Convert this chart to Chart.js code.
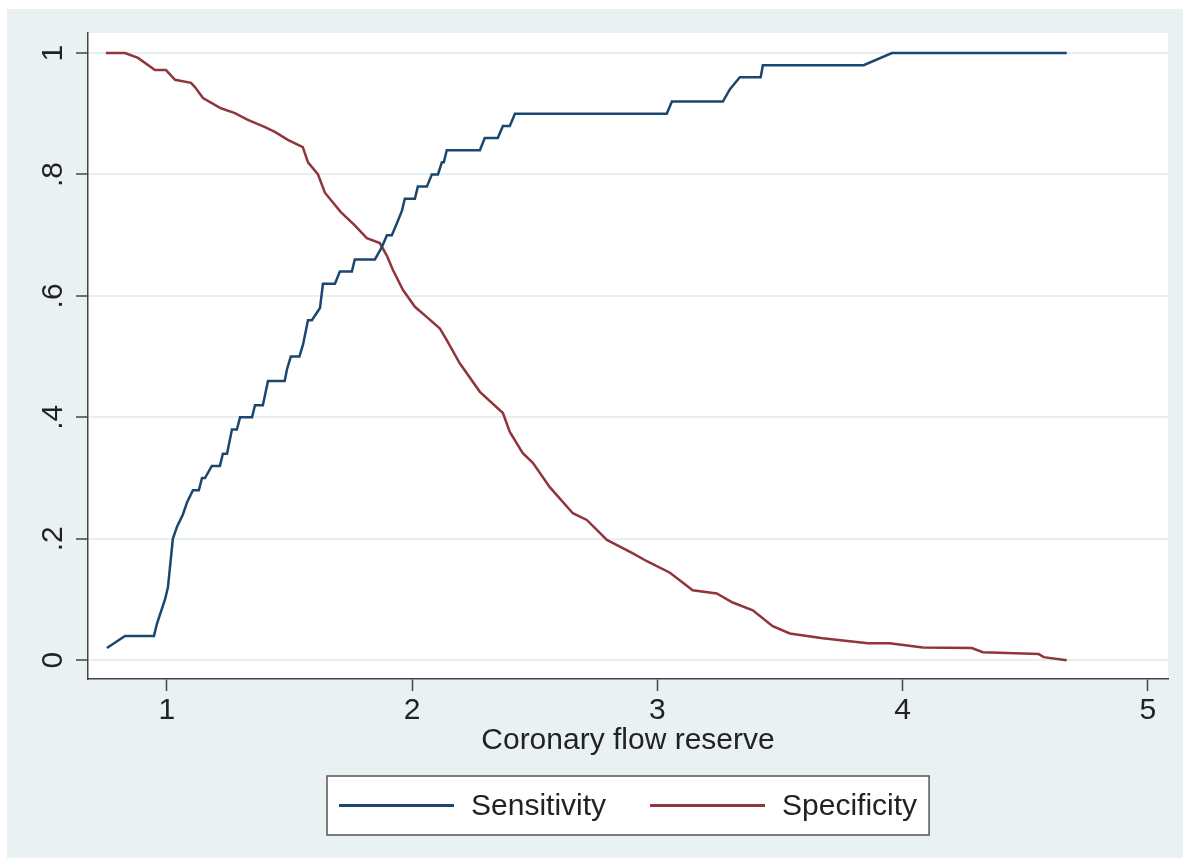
<!DOCTYPE html>
<html>
<head>
<meta charset="utf-8">
<script src="https://cdn.jsdelivr.net/npm/chart.js@4.4.1/dist/chart.umd.min.js"></script>
<style>
  html, body { margin: 0; padding: 0; background: #fff; }
  #wrap { width: 1183px; height: 858px; position: relative; }
</style>
</head>
<body>
<div id="wrap"><canvas id="rocChart"></canvas></div>
<script>
// sensitivity curve (cut-off, value)
const sensX = [0.755, 0.829, 0.947, 0.959, 0.992, 1.004, 1.024, 1.041, 1.065, 1.082, 1.106, 1.13, 1.143, 1.155, 1.183, 1.216, 1.228, 1.245, 1.265, 1.285, 1.298, 1.347, 1.359, 1.391, 1.412, 1.48, 1.49, 1.505, 1.54, 1.555, 1.575, 1.591, 1.624, 1.636, 1.685, 1.705, 1.754, 1.766, 1.848, 1.876, 1.897, 1.917, 1.938, 1.958, 1.97, 2.011, 2.023, 2.06, 2.08, 2.105, 2.121, 2.129, 2.141, 2.276, 2.296, 2.349, 2.37, 2.398, 2.419, 3.038, 3.059, 3.267, 3.295, 3.336, 3.421, 3.43, 3.841, 3.956, 4.669];
const sensY = [0.02, 0.04, 0.04, 0.06, 0.10, 0.12, 0.20, 0.22, 0.24, 0.26, 0.28, 0.28, 0.30, 0.30, 0.32, 0.32, 0.34, 0.34, 0.38, 0.38, 0.40, 0.40, 0.42, 0.42, 0.46, 0.46, 0.48, 0.50, 0.50, 0.52, 0.56, 0.56, 0.58, 0.62, 0.62, 0.64, 0.64, 0.66, 0.66, 0.68, 0.70, 0.70, 0.72, 0.74, 0.76, 0.76, 0.78, 0.78, 0.80, 0.80, 0.82, 0.82, 0.84, 0.84, 0.86, 0.86, 0.88, 0.88, 0.90, 0.90, 0.92, 0.92, 0.94, 0.96, 0.96, 0.98, 0.98, 1.0, 1.0];

// specificity curve
const specX = [0.751, 0.829, 0.882, 0.951, 0.996, 1.033, 1.098, 1.114, 1.147, 1.22, 1.277, 1.33, 1.4, 1.44, 1.493, 1.554, 1.575, 1.616, 1.644, 1.709, 1.766, 1.815, 1.868, 1.897, 1.921, 1.962, 2.011, 2.06, 2.113, 2.141, 2.194, 2.276, 2.37, 2.398, 2.451, 2.492, 2.561, 2.655, 2.712, 2.794, 2.9, 2.957, 3.051, 3.144, 3.242, 3.307, 3.389, 3.47, 3.54, 3.674, 3.858, 3.947, 4.082, 4.282, 4.327, 4.555, 4.575, 4.669];
const specY = [1.0, 1.0, 0.992, 0.972, 0.972, 0.956, 0.951, 0.944, 0.926, 0.909, 0.901, 0.89, 0.878, 0.87, 0.857, 0.845, 0.82, 0.80, 0.77, 0.738, 0.716, 0.695, 0.687, 0.666, 0.643, 0.61, 0.582, 0.565, 0.546, 0.527, 0.489, 0.442, 0.407, 0.376, 0.341, 0.325, 0.285, 0.242, 0.231, 0.198, 0.176, 0.163, 0.144, 0.115, 0.11, 0.095, 0.082, 0.056, 0.044, 0.036, 0.028, 0.028, 0.021, 0.02, 0.013, 0.01, 0.005, 0.0];

const seriesNames = ['Sensitivity', 'Specificity'];
const seriesColors = ['#1a476f', '#90353b'];
const xTicks = [1, 2, 3, 4, 5];
const yTicks = [0, 0.2, 0.4, 0.6, 0.8, 1];
const yTickLabels = ['0', '.2', '.4', '.6', '.8', '1'];
const xTitle = 'Coronary flow reserve';

const FONT = "'Liberation Sans', Arial, sans-serif";
const TEXT = '#222';
const AXIS = '#444';

const toPoints = (xs, ys) => xs.map((x, i) => ({ x: x, y: ys[i] }));

// light blue graph region + white plot region
const stataBackground = {
    id: 'stataBackground',
    beforeDraw(chart) {
        const { ctx, width, height, chartArea } = chart;
        ctx.save();
        ctx.fillStyle = '#fff';
        ctx.fillRect(0, 0, width, height);
        ctx.fillStyle = '#eaf1f3';
        ctx.fillRect(7, 9, width - 7, height - 9);
        ctx.fillStyle = '#fff';
        ctx.fillRect(chartArea.left, chartArea.top, chartArea.right - chartArea.left, chartArea.bottom - chartArea.top);
        ctx.restore();
    }
};

// y labels are turned sideways like in Stata
const rotatedYLabels = {
    id: 'rotatedYLabels',
    afterDraw(chart) {
        const ctx = chart.ctx;
        const yScale = chart.scales.y;
        ctx.save();
        ctx.font = '30px ' + FONT;
        ctx.fillStyle = TEXT;
        ctx.textAlign = 'center';
        ctx.textBaseline = 'alphabetic';
        yTicks.forEach((v, i) => {
            ctx.save();
            ctx.translate(yScale.right - 26, yScale.getPixelForValue(v));
            ctx.rotate(-Math.PI / 2);
            ctx.fillText(yTickLabels[i], 0, 0);
            ctx.restore();
        });
        ctx.restore();
    }
};

// legend in a framed box under the axis title
const boxedLegend = {
    id: 'boxedLegend',
    afterDraw(chart) {
        const ctx = chart.ctx;
        const area = chart.chartArea;
        ctx.save();
        ctx.font = '30px ' + FONT;
        const sample = 115, gapText = 17, gapItem = 44, pad = 12;
        const widths = chart.data.datasets.map(ds => ctx.measureText(ds.label).width);
        let total = pad * 2 + gapItem * (widths.length - 1);
        widths.forEach(w => { total += sample + gapText + w; });
        const left = Math.round((area.left + area.right) / 2 - total / 2);
        const top = chart.height - 82;
        const h = 59;
        ctx.fillStyle = '#fff';
        ctx.fillRect(left, top, total, h);
        ctx.strokeStyle = '#555';
        ctx.lineWidth = 1.5;
        ctx.strokeRect(left, top, total, h);
        const cy = top + h / 2;
        let x = left + pad;
        chart.data.datasets.forEach((ds, i) => {
            ctx.strokeStyle = ds.borderColor;
            ctx.lineWidth = 3;
            ctx.beginPath();
            ctx.moveTo(x, cy);
            ctx.lineTo(x + sample, cy);
            ctx.stroke();
            x += sample + gapText;
            ctx.fillStyle = TEXT;
            ctx.textAlign = 'left';
            ctx.textBaseline = 'middle';
            ctx.fillText(ds.label, x, cy + 1);
            x += widths[i] + gapItem;
        });
        ctx.restore();
    }
};

new Chart(document.getElementById('rocChart'), {
    type: 'line',
    data: {
        datasets: [
            { label: seriesNames[0], data: toPoints(sensX, sensY), borderColor: seriesColors[0], borderWidth: 2.5, pointRadius: 0, tension: 0, fill: false },
            { label: seriesNames[1], data: toPoints(specX, specY), borderColor: seriesColors[1], borderWidth: 2.5, pointRadius: 0, tension: 0, fill: false }
        ]
    },
    options: {
        responsive: true,
        maintainAspectRatio: false,
        animation: false,
        devicePixelRatio: 1,
        layout: { padding: { top: 33, right: 15, bottom: 99, left: 0 } },
        plugins: {
            legend: { display: false },
            tooltip: { enabled: false }
        },
        scales: {
            x: {
                type: 'linear',
                min: 0.678,
                max: 5.082,
                afterBuildTicks: s => { s.ticks = xTicks.map(v => ({ value: v })); },
                afterFit: s => { s.height = 80; },
                grid: { drawOnChartArea: false, tickLength: 12, tickColor: AXIS, tickWidth: 1.5 },
                border: { color: AXIS, width: 1.5 },
                ticks: { font: { size: 30, family: FONT }, color: TEXT, padding: 2, maxRotation: 0 },
                title: { display: true, text: xTitle, font: { size: 30, family: FONT }, color: TEXT, padding: 0 }
            },
            y: {
                type: 'linear',
                min: -0.031,
                max: 1.033,
                afterBuildTicks: s => { s.ticks = yTicks.map(v => ({ value: v })); },
                afterFit: s => { s.width = 88; },
                grid: { color: '#e6eff1', lineWidth: 2, tickLength: 12, tickColor: AXIS, tickWidth: 1.5 },
                border: { color: AXIS, width: 1.5 },
                ticks: { display: false }
            }
        }
    },
    plugins: [stataBackground, rotatedYLabels, boxedLegend]
});
</script>
</body>
</html>
